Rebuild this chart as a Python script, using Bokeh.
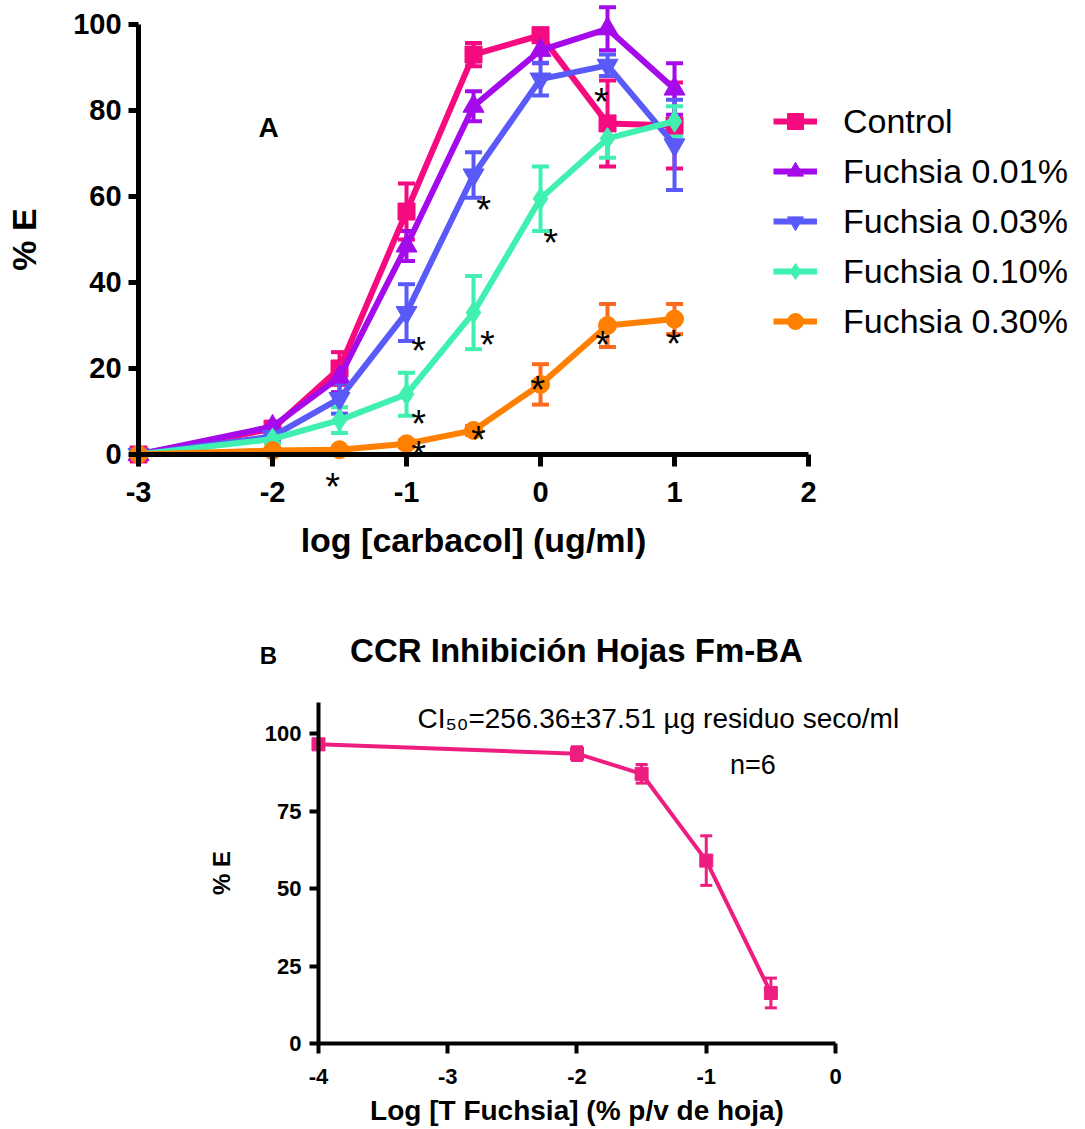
from bokeh.plotting import figure
from bokeh.models import (Range1d, FixedTicker, Legend, LegendItem, Whisker, TeeHead,
                          ColumnDataSource, Label)
from bokeh.layouts import column
from bokeh.embed import file_html
from bokeh.resources import INLINE
from bokeh.core.properties import value

FONT = "Liberation Sans"

# ---------------- Panel A data ----------------
log_carbacol = [-3, -2, -1.5, -1, -0.5, 0, 0.5, 1]
series_names = ["Control", "Fuchsia 0.01%", "Fuchsia 0.03%", "Fuchsia 0.10%", "Fuchsia 0.30%"]
control_mean = [0, 6, 20, 56.5, 93, 97.5, 77, 76.5]
control_sem = [0.5, 1, 3.8, 6.5, 2.7, 1.5, 10, 10]
f001_mean = [0, 6.5, 18, 48.5, 81, 94, 99, 85]
f001_sem = [0.5, 1, 3.5, 3.5, 3.5, 3, 5, 6]
f003_mean = [0, 4.2, 13, 33, 65, 87.3, 90.5, 72]
f003_sem = [0.5, 1, 3.5, 6.6, 5.3, 3.8, 2.5, 10.5]
f010_mean = [0, 3.6, 8, 14, 33, 59.5, 73.5, 77.5]
f010_sem = [0.5, 1, 3, 5, 8.5, 7.5, 4.5, 3.5]
f030_mean = [0, 0.9, 1.1, 2.5, 5.6, 16.3, 30, 31.5]
f030_sem = [0.3, 0.5, 0.5, 0.8, 1, 4.7, 5, 3.5]

# significance marks (*)
sig_x = [-1.552, -0.91, -0.91, -0.91, -0.463, -0.396, -0.425, 0.075, -0.022, 0.455, 0.463, 0.993]
sig_y = [-2.56, 29.3, 12.1, 5.1, 8.6, 30.5, 61.9, 54.4, 20.0, 87.0, 30.5, 30.7]

xticks_a = [-3, -2, -1, 0, 1, 2]
yticks_a = [0, 20, 40, 60, 80, 100]

# ---------------- Panel B data ----------------
log_fuchsia = [-4, -2, -1.5, -1, -0.5]
inhib_mean = [96.5, 93.5, 87, 59, 16.3]
inhib_sem = [1, 2.2, 3, 8, 4.8]
xticks_b = [-4, -3, -2, -1, 0]
yticks_b = [0, 25, 50, 75, 100]


def style_axis(ax, lw, tick_size, label_size):
    ax.axis_line_width = lw
    ax.major_tick_line_width = lw
    ax.major_tick_in = 0
    ax.minor_tick_line_color = None
    ax.major_label_text_font = FONT
    ax.major_label_text_font_style = "bold"
    ax.major_label_text_font_size = tick_size
    ax.major_label_text_color = "black"
    ax.axis_label_text_font = FONT
    ax.axis_label_text_font_style = "bold"
    ax.axis_label_text_font_size = label_size
    ax.axis_label_text_color = "black"


# ---------------- Panel A ----------------
p1 = figure(frame_width=1085, frame_height=590,
            x_range=Range1d(-4.030, 4.067), y_range=Range1d(-31.63, 105.58),
            output_backend="svg", toolbar_location=None,
            min_border_left=0, min_border_right=0, min_border_top=0, min_border_bottom=0)
p1.outline_line_color = None
p1.grid.visible = False

xa = p1.xaxis[0]
xa.fixed_location = 0
xa.bounds = (-3, 2)
xa.ticker = FixedTicker(ticks=xticks_a)
xa.major_label_overrides = {t: str(t) for t in xticks_a}
xa.axis_label = "log [carbacol] (ug/ml)"
xa.major_tick_out = 12
xa.major_label_standoff = 16
xa.axis_label_standoff = 15
style_axis(xa, 5, "29px", "34px")

ya = p1.yaxis[0]
ya.fixed_location = -3
ya.bounds = (0, 100)
ya.ticker = FixedTicker(ticks=yticks_a)
ya.axis_label = "% E"
ya.major_tick_out = 10
ya.major_label_standoff = 7
ya.axis_label_standoff = 27
style_axis(ya, 5, "29px", "34px")

means = [control_mean, f001_mean, f003_mean, f010_mean, f030_mean]
sems = [control_sem, f001_sem, f003_sem, f010_sem, f030_sem]
colors = ["#F50A80", "#A50AEB", "#5A5AF8", "#40F0B0", "#FF8000"]
err_colors = ["#F50A80", "#A50AEB", "#5A5AF8", "#40F0B0", "#FF6A1F"]
markers = ["square", "triangle", "inverted_triangle", "diamond", "circle"]
msizes = [17, 21, 21, 22, 18]

items = []
for name, m, s, c, ec, mk, ms in zip(series_names, means, sems, colors, err_colors, markers, msizes):
    src = ColumnDataSource(dict(x=log_carbacol, y=m,
                                upper=[a + b for a, b in zip(m, s)],
                                lower=[a - b for a, b in zip(m, s)]))
    w = Whisker(source=src, base="x", upper="upper", lower="lower",
                line_color=ec, line_width=4,
                upper_head=TeeHead(size=17, line_color=ec, line_width=4),
                lower_head=TeeHead(size=17, line_color=ec, line_width=4))
    p1.add_layout(w)
    r1 = p1.line("x", "y", source=src, line_color=c, line_width=6)
    r2 = p1.scatter("x", "y", source=src, marker=mk, size=ms, fill_color=c, line_color=c)
    items.append(LegendItem(label=name, renderers=[r1, r2]))

p1.text(x=sig_x, y=sig_y, text=["*"] * len(sig_x), text_font=value(FONT),
        text_font_size="38px", text_align="center", text_baseline="alphabetic",
        y_offset=22, text_color="black")

# legend box: left edge 773px, bottom edge 341px from the page top
legend = Legend(items=items, location=(773, 249), padding=0, margin=0, spacing=10,
                glyph_height=40, glyph_width=44, label_height=40, label_standoff=26,
                label_text_font=FONT, label_text_font_size="34px", label_text_color="black",
                border_line_color=None, background_fill_alpha=0)
p1.add_layout(legend)

p1.add_layout(Label(x=-2.03, y=76, text="A", text_font=FONT, text_font_style="bold",
                    text_font_size="28px", text_align="center", text_baseline="middle",
                    text_color="black"))

# ---------------- Panel B ----------------
p2 = figure(frame_width=1085, frame_height=539,
            x_range=Range1d(-6.460, 1.934), y_range=Range1d(-27.74, 146.13),
            output_backend="svg", toolbar_location=None,
            min_border_left=0, min_border_right=0, min_border_top=0, min_border_bottom=0)
p2.outline_line_color = None
p2.grid.visible = False

xb = p2.xaxis[0]
xb.fixed_location = 0
xb.bounds = (-4, 0)
xb.ticker = FixedTicker(ticks=xticks_b)
xb.major_label_overrides = {t: str(t) for t in xticks_b}
xb.axis_label = "Log [T Fuchsia] (% p/v de hoja)"
xb.major_tick_out = 10
xb.major_label_standoff = 15
xb.axis_label_standoff = 8
style_axis(xb, 4, "22px", "28px")

yb = p2.yaxis[0]
yb.fixed_location = -4
yb.bounds = (0, 110)
yb.ticker = FixedTicker(ticks=yticks_b)
yb.axis_label = "% E"
yb.major_tick_out = 9
yb.major_label_standoff = 8
yb.axis_label_standoff = 27
style_axis(yb, 4, "22px", "24px")

pink_b = "#EE1E80"
srcb = ColumnDataSource(dict(x=log_fuchsia, y=inhib_mean,
                             upper=[a + b for a, b in zip(inhib_mean, inhib_sem)],
                             lower=[a - b for a, b in zip(inhib_mean, inhib_sem)]))
p2.add_layout(Whisker(source=srcb, base="x", upper="upper", lower="lower",
                      line_color=pink_b, line_width=3,
                      upper_head=TeeHead(size=12, line_color=pink_b, line_width=3),
                      lower_head=TeeHead(size=12, line_color=pink_b, line_width=3)))
p2.line("x", "y", source=srcb, line_color=pink_b, line_width=4)
p2.scatter("x", "y", source=srcb, marker="square", size=13, fill_color=pink_b, line_color=pink_b)

p2.add_layout(Label(x=-2.004, y=126.8, text="CCR Inhibición Hojas Fm-BA", text_font=FONT,
                    text_font_style="bold", text_font_size="33px", text_align="center",
                    text_baseline="middle", text_color="black"))
p2.add_layout(Label(x=-3.234, y=104.8, text="CI\u2085\u2080=256.36\u00b137.51 \u00b5g residuo seco/ml",
                    text_font=FONT, text_font_size="28px", text_align="left", text_baseline="middle",
                    text_color="black"))
p2.add_layout(Label(x=-0.64, y=89.7, text="n=6", text_font=FONT, text_font_size="27px",
                    text_align="center", text_baseline="middle", text_color="black"))
p2.add_layout(Label(x=-4.387, y=125.2, text="B", text_font=FONT, text_font_style="bold",
                    text_font_size="24px", text_align="center", text_baseline="middle",
                    text_color="black"))

layout = column(p1, p2)
open("out.html", "w").write(file_html(layout, INLINE))
